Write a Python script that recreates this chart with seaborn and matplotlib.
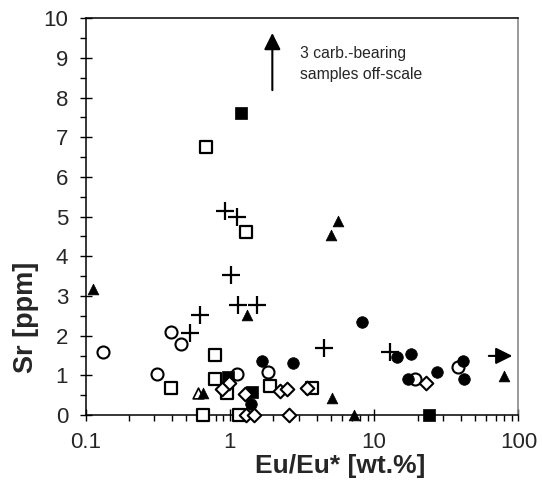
import numpy as np
import pandas as pd
import matplotlib
matplotlib.use("Agg")
import matplotlib.pyplot as plt
import seaborn as sns
from matplotlib.patches import FancyArrowPatch
from matplotlib.ticker import FixedLocator, FixedFormatter, NullFormatter

# --- data (Eu/Eu*, Sr) ---
open_circle_x = [0.132, 0.315, 0.389, 0.457, 1.12, 1.85, 19.2, 37.9]
open_circle_y = [1.59, 1.03, 2.10, 1.78, 1.03, 1.08, 0.92, 1.22]

open_square_x = [0.684, 1.29, 0.789, 0.389, 0.789, 0.951, 1.90, 3.69, 0.652, 1.15]
open_square_y = [6.75, 4.61, 1.51, 0.67, 0.92, 0.55, 0.73, 0.67, 0.0, 0.0]

plus_x = [0.926, 1.12, 1.02, 1.146, 1.54, 0.622, 0.530, 4.50, 12.9]
plus_y = [5.15, 5.00, 3.52, 2.77, 2.77, 2.52, 2.06, 1.68, 1.60]

filled_circle_x = [8.2, 1.66, 2.75, 14.3, 18.0, 17.1, 27.4, 41.5, 42.2, 1.40]
filled_circle_y = [2.35, 1.36, 1.30, 1.45, 1.54, 0.92, 1.09, 1.36, 0.90, 0.28]

filled_square_x = [1.19, 0.977, 1.42, 24.0]
filled_square_y = [7.62, 0.97, 0.59, 0.0]

open_tri_x = [0.60]
open_tri_y = [0.55]

triangle_x = [0.113, 1.31, 5.03, 5.62, 5.08, 0.649, 7.26, 79.5]
triangle_y = [3.18, 2.52, 4.55, 4.90, 0.42, 0.55, 0.0, 0.98]

diamond_x = [22.9, 0.99, 0.879, 1.27, 2.23, 2.50, 3.41, 1.29, 1.47, 2.56]
diamond_y = [0.80, 0.80, 0.65, 0.53, 0.60, 0.65, 0.67, 0.0, 0.0, 0.0]

x_ticks = [0.1, 1, 10, 100]
x_tick_labels = ["0.1", "1", "10", "100"]
y_ticks = list(range(0, 11))

sns.set_style("ticks")
plt.rcParams["font.family"] = ["Liberation Sans", "DejaVu Sans"]

fig = plt.figure(figsize=(5.42, 4.95), dpi=100)
ax = fig.add_axes([0.1578, 0.1616, 0.7988, 0.8014])

common = dict(ax=ax, clip_on=False, zorder=3, legend=False)
sns.scatterplot(x=open_circle_x, y=open_circle_y, marker="o", s=75,
                facecolor="white", edgecolor="black", linewidth=1.5, **common)
sns.scatterplot(x=open_square_x, y=open_square_y, marker="s", s=85,
                facecolor="white", edgecolor="black", linewidth=1.6, **common)
sns.scatterplot(x=plus_x, y=plus_y, marker="+", s=160,
                color="black", linewidth=1.6, **common)
sns.scatterplot(x=filled_circle_x, y=filled_circle_y, marker="o", s=70,
                facecolor="black", edgecolor="black", linewidth=0.5, **common)
sns.scatterplot(x=filled_square_x, y=filled_square_y, marker="s", s=85,
                facecolor="black", edgecolor="black", linewidth=0.5, **common)
sns.scatterplot(x=open_tri_x, y=open_tri_y, marker="^", s=60,
                facecolor="white", edgecolor="black", linewidth=1.2, **common)
sns.scatterplot(x=triangle_x, y=triangle_y, marker="^", s=60,
                facecolor="black", edgecolor="black", linewidth=0.5, **common)
sns.scatterplot(x=diamond_x, y=diamond_y, marker="D", s=48,
                facecolor="white", edgecolor="black", linewidth=1.5, **common)

# off-scale arrows
for start, end in [((1.97, 8.12), (1.97, 9.70)), ((59.6, 1.49), (94.8, 1.49))]:
    ax.add_patch(FancyArrowPatch(start, end, arrowstyle="-|>,head_length=0.5,head_width=0.25",
                                 mutation_scale=20, color="black", lw=1.5, zorder=4, clip_on=False))
ax.text(3.07, 8.84, "3 carb.-bearing\nsamples off-scale", fontsize=11.3,
        ha="left", va="center", linespacing=1.5)

ax.set_xscale("log")
ax.set_xlim(0.1, 100)
ax.set_ylim(0, 10)
ax.xaxis.set_major_locator(FixedLocator(x_ticks))
ax.xaxis.set_major_formatter(FixedFormatter(x_tick_labels))
ax.xaxis.set_minor_locator(FixedLocator([m * d for d in [0.1, 1, 10] for m in range(2, 10)]))
ax.xaxis.set_minor_formatter(NullFormatter())
ax.yaxis.set_major_locator(FixedLocator(y_ticks))
ax.yaxis.set_minor_locator(FixedLocator(np.arange(0.5, 10, 1.0)))

ax.tick_params(which="major", direction="inout", length=9, width=1, labelsize=16, color="black")
ax.tick_params(axis="y", which="major", pad=8)
ax.tick_params(axis="x", which="major", pad=8)
ax.tick_params(which="minor", direction="out", length=4, width=1, color="black")
for side in ["left", "bottom", "top"]:
    ax.spines[side].set_color("black")
    ax.spines[side].set_linewidth(1.1)
ax.spines["right"].set_color("#808080")
ax.spines["right"].set_linewidth(1.1)

ax.set_xlabel("Eu/Eu* [wt.%]", fontsize=19, fontweight="bold")
ax.set_ylabel("Sr [ppm]", fontsize=19.5, fontweight="bold")
ax.xaxis.set_label_coords(0.588, -0.098)
ax.yaxis.set_label_coords(-0.108, 0.245)

fig.savefig("out.png", dpi=100)
